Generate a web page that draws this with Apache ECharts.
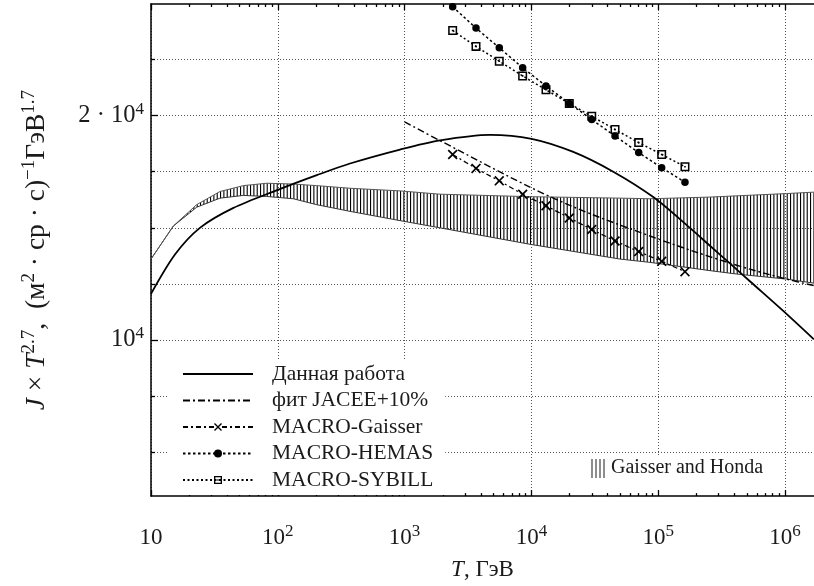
<!DOCTYPE html>
<html><head><meta charset="utf-8">
<script src="https://cdn.jsdelivr.net/npm/echarts@6/dist/echarts.min.js"></script>
<style>html,body{margin:0;padding:0;background:#fff}#c{width:814px;height:586px}</style>
</head><body><div id="c"></div>
<script>
// ---------------- data ----------------
const thisWorkT = [10, 15.5, 24.3, 44.3, 100, 203, 371, 920, 1903, 4712, 10040, 21380, 44200, 91400, 177900, 255700, 368000, 528600, 968000, 1690000];
const thisWorkJ = [11530, 13030, 14140, 15030, 15900, 16640, 17250, 18010, 18530, 18850, 18620, 17880, 16820, 15550, 14140, 13380, 12670, 11990, 10940, 10020];

const jaceeT = [1000, 1903, 14890, 86100, 390800, 1030000, 1690000];
const jaceeJ = [19620, 18510, 15500, 13790, 12640, 12070, 11830];

const macroT = [2393, 3656, 5580, 8530, 13030, 19900, 29900, 45650, 70150, 106500, 162600];
const gaisserJ = [17740, 16990, 16350, 15690, 15140, 14580, 14070, 13580, 13140, 12750, 12350];
const hemasJ = [28000, 26210, 24660, 23190, 21920, 20770, 19760, 18780, 17840, 17030, 16280];
const sybillJ = [26020, 24770, 23660, 22610, 21660, 20770, 19960, 19160, 18400, 17740, 17080];

const bandT = [10, 15, 22.9, 35, 53.5, 81.7, 132.5, 202.7, 371, 920, 1902, 9750, 49960, 86100, 256200, 415700, 1030000, 1690000];
const bandUpper = [12840, 14220, 15190, 15820, 16110, 16230, 16190, 16110, 15980, 15850, 15690, 15570, 15500, 15470, 15550, 15610, 15720, 15790];
const bandLower = [12840, 14220, 15070, 15500, 15630, 15580, 15470, 15190, 14880, 14460, 14140, 13440, 12840, 12710, 12390, 12260, 12070, 11920];

const xMajorTicks = [10, 100, 1000, 10000, 100000, 1000000];
const yMajorTicks = [10000, 20000];
const yMinorTicks = [7071, 8409, 11892, 14142, 16818, 23784];

const seriesNames = ['Данная работа', 'фит JACEE+10%', 'MACRO-Gaisser', 'MACRO-HEMAS', 'MACRO-SYBILL'];
const bandName = 'Gaisser and Honda';

// ---------------- setup ----------------
const FONT = '"Liberation Serif", "DejaVu Serif", serif';
const TXT = '#1a1a1a';
const xMin = 10, xMax = 1.693e6, yMin = 6174, yMax = 28235;
const xMinorTicks = [];
for (let k = 1; k <= 6; k++) for (let m = 2; m <= 9; m++) { const v = m * Math.pow(10, k); if (v < xMax) xMinorTicks.push(v); }

const zip = (a, b) => a.map((v, i) => [v, b[i]]);

const pc = document.createElement('canvas');
pc.width = 10; pc.height = 4;
const g = pc.getContext('2d');
g.fillStyle = '#000';
[0, 3.33, 6.67].forEach(x => g.fillRect(x, 0, 1.1, 4));

const xSym = 'path://M0,1.2 L1.2,0 L5,3.8 L8.8,0 L10,1.2 L6.2,5 L10,8.8 L8.8,10 L5,6.2 L1.2,10 L0,8.8 L3.8,5 Z';
const sqSym = 'path://M0,0 H10 V10 H0 Z M1.7,1.7 V8.3 H8.3 V1.7 Z M4.1,4.1 H5.9 V5.9 H4.1 Z';

const supStyle = { fontSize: 17, lineHeight: 17, verticalAlign: 'top', fontFamily: FONT, color: TXT };
const tickLine = { color: '#000', width: 1.3 };
const gridLine = { show: true, lineStyle: { type: [1, 2], color: '#555', width: 1 } };

const baseX = { type: 'log', min: xMin, max: xMax, gridIndex: 0 };
const baseY = { type: 'log', min: yMin, max: yMax, gridIndex: 0 };

const hideSym = { color: 'rgba(0,0,0,0)', borderWidth: 0, opacity: 0 };

const chart = echarts.init(document.getElementById('c'));
chart.setOption({
  animation: false,
  backgroundColor: '#fff',
  grid: { left: 151, right: 0, top: 4, bottom: 85 },
  legend: {
    data: seriesNames.map((n, i) => (i < 2 ? { name: n, itemStyle: hideSym } : { name: n })),
    orient: 'vertical', left: 167, top: 360,
    itemWidth: 70, itemHeight: 10, itemGap: 4.5,
    padding: [3, 12, 4, 15], backgroundColor: '#fff', selectedMode: false,
    textStyle: { fontFamily: FONT, fontSize: 21.5, color: TXT, lineHeight: 22, padding: [0, 0, 0, 14] }
  },
  graphic: [{
    type: 'text', left: 587, top: 456, z: 100,
    style: { text: '|||| ' + bandName, font: '20px "Liberation Serif"', fill: TXT, backgroundColor: '#fff', padding: [2, 6, 12, 3] }
  }],
  xAxis: [
    Object.assign({}, baseX, {
      position: 'bottom',
      axisLine: { lineStyle: { color: '#000', width: 1.5 } },
      axisTick: { inside: true, length: 6, customValues: xMajorTicks, lineStyle: tickLine },
      axisLabel: {
        customValues: xMajorTicks, margin: 27, fontFamily: FONT, fontSize: 23, lineHeight: 30, color: TXT,
        formatter: v => { const e = Math.round(Math.log10(v)); return e === 1 ? '10' : '10{sup|' + e + '}'; },
        rich: { sup: supStyle }
      },
      splitLine: gridLine,
      name: '{i|T}, ГэВ', nameLocation: 'middle', nameGap: 52,
      nameTextStyle: { fontFamily: FONT, fontSize: 23, color: TXT, rich: { i: { fontStyle: 'italic', fontFamily: FONT, fontSize: 23 } } }
    }),
    Object.assign({}, baseX, {
      position: 'bottom', axisLine: { show: false },
      axisTick: { inside: true, length: 3, customValues: xMinorTicks, lineStyle: tickLine },
      axisLabel: { show: false }, splitLine: { show: false }
    }),
    Object.assign({}, baseX, {
      position: 'top', axisLine: { lineStyle: { color: '#000', width: 1.5 } },
      axisTick: { inside: true, length: 6, customValues: xMajorTicks, lineStyle: tickLine },
      axisLabel: { show: false }, splitLine: { show: false }
    }),
    Object.assign({}, baseX, {
      position: 'top', axisLine: { show: false },
      axisTick: { inside: true, length: 3, customValues: xMinorTicks, lineStyle: tickLine },
      axisLabel: { show: false }, splitLine: { show: false }
    })
  ],
  yAxis: [
    Object.assign({}, baseY, {
      position: 'left',
      axisLine: { lineStyle: { color: '#000', width: 1.5 } },
      axisTick: { inside: true, length: 7, customValues: yMajorTicks, lineStyle: tickLine },
      axisLabel: {
        customValues: yMajorTicks, margin: 7, fontFamily: FONT, fontSize: 24.5, lineHeight: 30, color: TXT,
        formatter: v => (Math.abs(v - 20000) < 1 ? '2 · 10{sup|4}' : '10{sup|4}'),
        rich: { sup: supStyle }
      },
      splitLine: gridLine,
      name: '{i|J} × {i|T}{sup|2.7},  (м{sup|2} · ср · с){sup|−1}ГэВ{sup|1.7}',
      nameLocation: 'middle', nameGap: 98,
      nameTextStyle: {
        fontFamily: FONT, fontSize: 27.5, lineHeight: 33, color: TXT,
        rich: {
          i: { fontStyle: 'italic', fontFamily: FONT, fontSize: 27.5, lineHeight: 33, color: TXT },
          sup: { fontSize: 19, lineHeight: 19, verticalAlign: 'top', fontFamily: FONT, color: TXT }
        }
      }
    }),
    Object.assign({}, baseY, {
      position: 'left', axisLine: { show: false },
      axisTick: { inside: true, length: 4, customValues: yMinorTicks, lineStyle: tickLine },
      axisLabel: { show: false }, splitLine: gridLine
    })
  ],
  series: [
    { name: seriesNames[0], type: 'line', data: zip(thisWorkT, thisWorkJ), symbol: 'none', smooth: 0.3, z: 6,
      lineStyle: { color: '#000', width: 1.8 }, itemStyle: { color: '#000' } },
    { name: seriesNames[1], type: 'line', data: zip(jaceeT, jaceeJ), symbol: 'none', smooth: 0.35, z: 5,
      lineStyle: { color: '#000', width: 1.4, type: [7, 3, 2, 3] }, itemStyle: { color: '#000' } },
    { name: seriesNames[2], type: 'line', data: zip(macroT, gaisserJ), symbol: xSym, symbolSize: 10, z: 5,
      lineStyle: { color: '#000', width: 1.3, type: [5, 3, 2, 3] }, itemStyle: { color: '#000' } },
    { name: seriesNames[3], type: 'line', data: zip(macroT, hemasJ), symbol: 'circle', symbolSize: 7.5, z: 5,
      lineStyle: { color: '#000', width: 1.5, type: [2.5, 2.5] }, itemStyle: { color: '#000' } },
    { name: seriesNames[4], type: 'line', data: zip(macroT, sybillJ), symbol: sqSym, symbolSize: 9, z: 5,
      lineStyle: { color: '#000', width: 1.5, type: [2, 2.5] }, itemStyle: { color: '#000' } },
    { name: bandName, type: 'custom', z: 2, clip: true,
      data: bandT.map((t, i) => [t, bandLower[i], bandUpper[i]]),
      encode: { x: 0, y: [1, 2] },
      renderItem: (params, api) => {
        if (params.dataIndexInside !== 0) return null;
        const n = bandT.length, lo = [], up = [];
        for (let j = 0; j < n; j++) {
          lo.push(api.coord([api.value(0, j), api.value(1, j)]));
          up.push(api.coord([api.value(0, j), api.value(2, j)]));
        }
        return { type: 'polygon', shape: { points: lo.concat(up.reverse()) },
                 style: { fill: { image: pc, repeat: 'repeat' }, stroke: null } };
      } },
    { name: 'band-lower', type: 'line', data: zip(bandT, bandLower), symbol: 'none', z: 3,
      lineStyle: { color: '#333', width: 1 } },
    { name: 'band-upper', type: 'line', data: zip(bandT, bandUpper), symbol: 'none', z: 3,
      lineStyle: { color: '#555', width: 1 } }
  ]
});
</script></body></html>
